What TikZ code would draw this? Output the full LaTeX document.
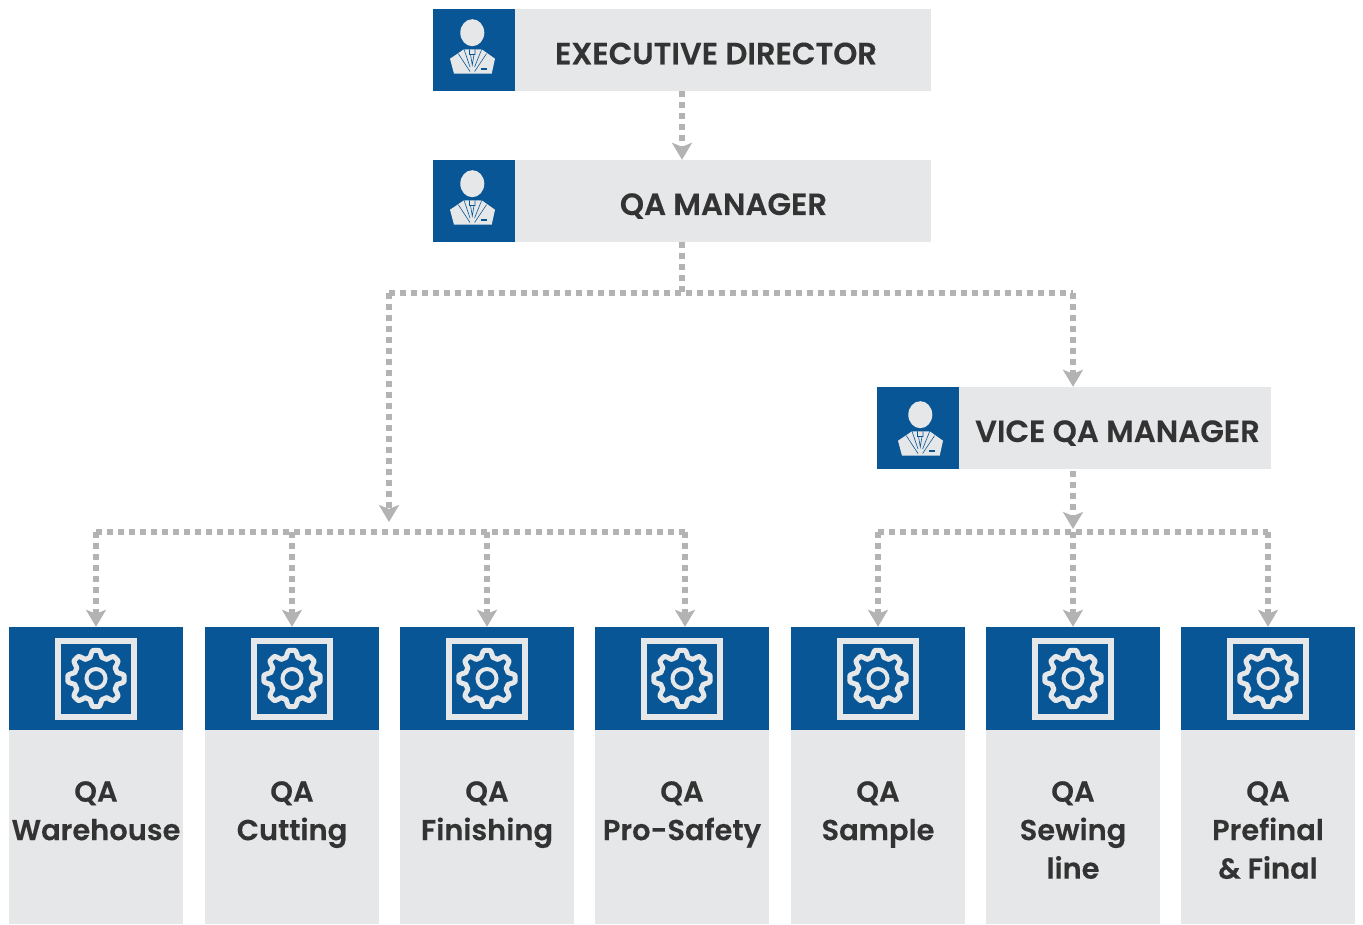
\documentclass[tikz,border=0pt]{standalone}
\usepackage{fontspec}
\setmainfont{Poppins SemiBold}[FakeBold=0.25]
\usetikzlibrary{positioning,arrows.meta}
\definecolor{qablue}{HTML}{085696}
\definecolor{qagray}{HTML}{E6E7E9}
\definecolor{qalink}{HTML}{B3B3B3}
\definecolor{qatext}{HTML}{333333}
\tikzset{
  rolebox/.style={fill=qagray, minimum width=498pt, minimum height=82pt, inner sep=0pt},
  rolehead/.style={fill=qablue, minimum width=82pt, minimum height=82pt, inner sep=0pt},
  rolelabel/.style={text=qatext, font=\fontsize{30.7}{36}\selectfont, inner sep=0pt},
  depthead/.style={fill=qablue, minimum width=174pt, minimum height=103pt, inner sep=0pt},
  deptbody/.style={fill=qagray, minimum width=174pt, minimum height=194pt, inner sep=0pt},
  deptlabel/.style={text=qatext, align=center, inner sep=0pt, font=\fontsize{28.9}{38.5}\selectfont},
  link/.style={draw=qalink, line width=6pt, dash pattern=on 6pt off 5pt},
  linkend/.style={link, -{Stealth[length=17pt,width=20pt,inset=4pt]}},
  person/.pic={
    \fill[qagray] (-1.7,-17.3) ellipse (12 and 13.5);
    \fill[qagray] (-24,8.7) -- (-10,-0.7) -- (7.7,-0.7) -- (21,8.7) -- (17.7,23.7) -- (-20,23.7) -- cycle;
    \draw[qablue, line width=0.6pt] (-15.7,3.7) -- (-4,21.5) (12.5,3.7) -- (0.6,21.5) (-10,-0.7) -- (-4,17) (7.7,-0.7) -- (0.6,17);
    \draw[qablue, line width=0.6pt] (-4.5,-0.7) -- (-4.5,4.5) -- (1,4.5) -- (1,-0.7) (-3.5,4.5) -- (-1.7,15) -- (0,4.5);
    \draw[qablue, line width=1.2pt] (7,19) -- (13,19);
  },
  gear/.pic={
    \draw[qagray, line width=6pt] (-38,-38) rectangle (38,38);
    \draw[qagray, line width=5pt, line join=round] plot[domain=0:360, samples=193] (\x:{25+3.2*max(-1,min(1,1.7*cos(8*\x)))}) -- cycle;
    \draw[qagray, line width=4pt] (0,0) circle (9.5);
  }
}
\begin{document}
\begin{tikzpicture}[x=1pt,y=-1pt]
    \useasboundingbox (0,0) rectangle (1363,924);
    % top roles
    \node[rolebox] (exec) at (682,50) {};
    \node[rolehead] (execicon) at (474,50) {};
    \pic at (execicon) {person};
    \node[rolelabel] (execlabel) at (716,53.5) {EXECUTIVE DIRECTOR};
    \node[rolebox] (mgr) at (682,201) {};
    \node[rolehead] (mgricon) at (474,201) {};
    \pic at (mgricon) {person};
    \node[rolelabel] (mgrlabel) at (723.5,206) {QA MANAGER};
    \node[rolebox, minimum width=394pt] (vice) at (1074,428) {};
    \node[rolehead] (viceicon) at (918,428) {};
    \pic at ([shift={(4pt,-4pt)}]viceicon.center) {person};
    \node[rolelabel] (vicelabel) at (1117.5,433) {VICE QA MANAGER};
    % departments
    \node[depthead] (warehouse) at (96,678.5) {};
    \pic at (warehouse) {gear};
    \node[deptbody, below=0pt of warehouse] (warehousebody) {};
    \node[deptlabel, anchor=north] (warehouselabel) at (96,781) {QA\\Warehouse};
    \node[depthead] (cutting) at (292,678.5) {};
    \pic at (cutting) {gear};
    \node[deptbody, below=0pt of cutting] (cuttingbody) {};
    \node[deptlabel, anchor=north] (cuttinglabel) at (292,781) {QA\\Cutting};
    \node[depthead] (finishing) at (487,678.5) {};
    \pic at (finishing) {gear};
    \node[deptbody, below=0pt of finishing] (finishingbody) {};
    \node[deptlabel, anchor=north] (finishinglabel) at (487,781) {QA\\Finishing};
    \node[depthead] (safety) at (682,678.5) {};
    \pic at (safety) {gear};
    \node[deptbody, below=0pt of safety] (safetybody) {};
    \node[deptlabel, anchor=north] (safetylabel) at (682,781) {QA\\Pro-Safety};
    \node[depthead] (sample) at (878,678.5) {};
    \pic at (sample) {gear};
    \node[deptbody, below=0pt of sample] (samplebody) {};
    \node[deptlabel, anchor=north] (samplelabel) at (878,781) {QA\\Sample};
    \node[depthead] (sewing) at (1073,678.5) {};
    \pic at (sewing) {gear};
    \node[deptbody, below=0pt of sewing] (sewingbody) {};
    \node[deptlabel, anchor=north] (sewinglabel) at (1073,781) {QA\\Sewing\\line};
    \node[depthead] (final) at (1268,678.5) {};
    \pic at (final) {gear};
    \node[deptbody, below=0pt of final] (finalbody) {};
    \node[deptlabel, anchor=north] (finallabel) at (1268,781) {QA\\Prefinal\\\& Final};
    % connector points
    \coordinate (mgrdrop) at (682,293);
    \coordinate (lefttop) at (389,293);
    \coordinate (righttop) at (1073,293);
    \coordinate (leftend) at (389,522);
    \coordinate (busa) at (96,532);
    \coordinate (busb) at (292,532);
    \coordinate (busc) at (487,532);
    \coordinate (busd) at (685,532);
    \coordinate (busr) at (1073,532);
    \coordinate (buss) at (878,532);
    \coordinate (bust) at (1268,532);
    \coordinate (vicedrop) at (1073,471);
    \coordinate (viceend) at (1073,529);
    % connectors
    \draw[linkend] (exec) -- (mgr);
    \draw[link] (mgr) -- (mgrdrop);
    \draw[link] (lefttop) -- (righttop);
    \draw[linkend] (lefttop) -- (leftend);
    \draw[linkend] (righttop) -- (righttop |- vice.north);
    \draw[link] (busa) -- (busd);
    \draw[linkend] (busa) -- (warehouse);
    \draw[linkend] (busb) -- (cutting);
    \draw[linkend] (busc) -- (finishing);
    \draw[linkend] (busd) -- (busd |- safety.north);
    \draw[link] (buss) -- (bust);
    \draw[linkend] (buss) -- (sample);
    \draw[linkend] (busr) -- (sewing);
    \draw[linkend] (bust) -- (final);
    \draw[linkend] (vicedrop) -- (viceend);
\end{tikzpicture}
\end{document}
